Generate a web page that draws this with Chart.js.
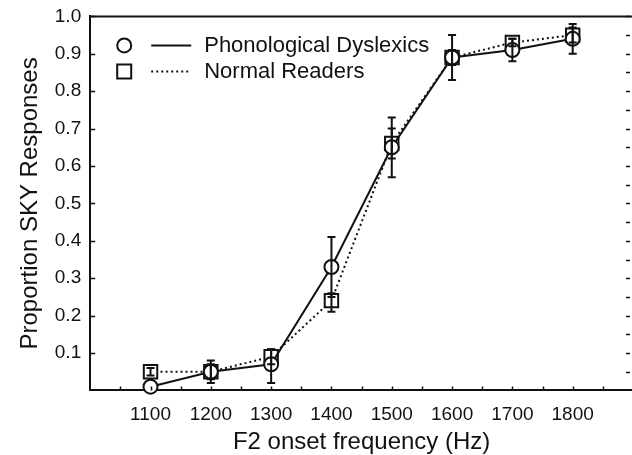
<!DOCTYPE html>
<html>
<head>
<meta charset="utf-8">
<script src="https://cdn.jsdelivr.net/npm/chart.js@4"></script>
<style>
  html, body { margin: 0; padding: 0; background: #fff; overflow: hidden; }
  /* the scan cuts the plot frame off on the right, so the canvas is a bit bigger than the view */
  #wrap { width: 632px; height: 455px; overflow: hidden; }
  #f2-chart { display: block; margin-top: -4px; }
</style>
</head>
<body>
<div id="wrap"><canvas id="f2-chart" width="646" height="461"></canvas></div>
<script>
// F2 onset frequency (Hz)
const frequencies = [1100, 1200, 1300, 1400, 1500, 1600, 1700, 1800];

// Phonological Dyslexics, mean and error bar ends
const dyslexics = [0.01, 0.05, 0.07, 0.33, 0.65, 0.89, 0.91, 0.94];
const dyslexicsLow = [0.01, 0.02, 0.02, 0.25, 0.57, 0.83, 0.88, 0.90];
const dyslexicsHigh = [0.01, 0.08, 0.11, 0.41, 0.73, 0.95, 0.94, 0.98];

// Normal Readers, mean and error bar ends
const normals = [0.05, 0.05, 0.09, 0.24, 0.66, 0.89, 0.93, 0.95];
const normalsLow = [0.04, 0.03, 0.07, 0.21, 0.62, 0.87, 0.92, 0.93];
const normalsHigh = [0.06, 0.07, 0.11, 0.26, 0.70, 0.91, 0.94, 0.97];

const seriesNames = ["Phonological Dyslexics", "Normal Readers"];
const xTitle = "F2 onset frequency (Hz)";
const yTitle = "Proportion SKY Responses";

const FONT = "'Liberation Sans', Arial, Helvetica, sans-serif";
const INK = "#111";

function toPoints(values) {
  return frequencies.map((f, i) => ({ x: f, y: values[i] }));
}

// error bars drawn over the markers, like the scan
const errorBars = {
  id: "errorBars",
  afterDatasetsDraw(chart) {
    const ctx = chart.ctx;
    const xs = chart.scales.x;
    const ys = chart.scales.y;
    const sets = [[dyslexicsLow, dyslexicsHigh], [normalsLow, normalsHigh]];
    ctx.save();
    ctx.strokeStyle = INK;
    ctx.lineWidth = 2;
    sets.forEach(([low, high]) => {
      frequencies.forEach((f, i) => {
        if (high[i] - low[i] < 0.005) return;
        const px = xs.getPixelForValue(f);
        const top = ys.getPixelForValue(high[i]);
        const bot = ys.getPixelForValue(low[i]);
        ctx.beginPath();
        ctx.moveTo(px, top);
        ctx.lineTo(px, bot);
        ctx.moveTo(px - 4, top);
        ctx.lineTo(px + 4, top);
        ctx.moveTo(px - 4, bot);
        ctx.lineTo(px + 4, bot);
        ctx.stroke();
      });
    });
    ctx.restore();
  },
};

// frame: top line and the small inward ticks
const frame = {
  id: "frame",
  afterDraw(chart) {
    const ctx = chart.ctx;
    const a = chart.chartArea;
    const xs = chart.scales.x;
    const ys = chart.scales.y;
    ctx.save();
    ctx.strokeStyle = INK;
    ctx.lineWidth = 2;
    ctx.beginPath();
    ctx.moveTo(a.left, a.top);
    ctx.lineTo(a.right, a.top);
    ctx.stroke();

    ctx.lineWidth = 1.5;
    ctx.beginPath();
    for (let v = 0.1; v <= 1.001; v += 0.1) {
      const py = Math.round(ys.getPixelForValue(v)) + 0.5;
      ctx.moveTo(a.left, py);
      ctx.lineTo(a.left + 5, py);
    }
    for (let v = 0.05; v <= 1.001; v += 0.05) {
      const py = Math.round(ys.getPixelForValue(v)) + 0.5;
      ctx.moveTo(a.right - 3, py);
      ctx.lineTo(a.right - 7, py);
    }
    for (let f = 1050; f < 1900; f += 50) {
      const px = Math.round(xs.getPixelForValue(f)) + 0.5;
      ctx.moveTo(px, a.bottom);
      ctx.lineTo(px, a.bottom - 4);
    }
    ctx.stroke();
    ctx.restore();
  },
};

// legend inside the plot: marker, line sample, label
const insideLegend = {
  id: "insideLegend",
  afterDraw(chart) {
    const ctx = chart.ctx;
    const a = chart.chartArea;
    const x0 = a.left + 34;
    ctx.save();
    ctx.strokeStyle = INK;
    ctx.fillStyle = INK;
    ctx.font = "22px " + FONT;
    ctx.textBaseline = "middle";
    chart.data.datasets.forEach((ds, i) => {
      const y = a.top + 29 + i * 26;
      ctx.lineWidth = 2;
      ctx.setLineDash([]);
      ctx.beginPath();
      if (i === 0) {
        ctx.arc(x0, y, 7, 0, Math.PI * 2);
      } else {
        ctx.rect(x0 - 7, y - 7, 14, 14);
      }
      ctx.stroke();
      ctx.setLineDash(ds.borderDash || []);
      ctx.beginPath();
      ctx.moveTo(x0 + 27, y);
      ctx.lineTo(x0 + 67, y);
      ctx.stroke();
      ctx.setLineDash([]);
      ctx.fillText(ds.label, x0 + 80, y + 1);
    });
    ctx.restore();
  },
};

new Chart(document.querySelector("#f2-chart").getContext("2d"), {
  type: "line",
  data: {
    datasets: [
      {
        label: seriesNames[0],
        data: toPoints(dyslexics),
        borderColor: INK,
        borderWidth: 2,
        pointStyle: "circle",
        pointRadius: 7,
        pointBorderWidth: 2,
        pointBackgroundColor: "#fff",
        pointBorderColor: INK,
      },
      {
        label: seriesNames[1],
        data: toPoints(normals),
        borderColor: INK,
        borderWidth: 2,
        borderDash: [2, 3],
        pointStyle: "rect",
        pointRadius: 9.5,
        pointBorderWidth: 2,
        pointBackgroundColor: "#fff",
        pointBorderColor: INK,
      },
    ],
  },
  options: {
    responsive: false,
    animation: false,
    clip: false,
    layout: { padding: { left: 16, right: 0, top: 7, bottom: 0 } },
    plugins: {
      legend: { display: false },
      tooltip: { enabled: false },
    },
    scales: {
      x: {
        type: "linear",
        min: 1000,
        max: 1900,
        border: { display: true, color: INK, width: 2 },
        grid: { display: false, drawTicks: false },
        ticks: {
          stepSize: 100,
          padding: 13,
          color: INK,
          font: { family: FONT, size: 19 },
          maxRotation: 0,
          callback: (v) => (v === 1000 || v === 1900 ? "" : String(v)),
        },
        title: {
          display: true,
          text: xTitle,
          color: INK,
          font: { family: FONT, size: 24 },
          padding: { top: -11, bottom: 0 },
        },
      },
      y: {
        min: 0,
        max: 1,
        border: { display: true, color: INK, width: 2 },
        grid: { display: false, drawTicks: false },
        ticks: {
          stepSize: 0.1,
          padding: 9,
          color: INK,
          font: { family: FONT, size: 19 },
          callback: (v) => (v < 0.05 ? "" : v.toFixed(1)),
        },
        title: {
          display: true,
          text: yTitle,
          color: INK,
          font: { family: FONT, size: 24 },
          padding: { top: 0, bottom: 1 },
        },
      },
    },
  },
  plugins: [errorBars, frame, insideLegend],
});
</script>
</body>
</html>
